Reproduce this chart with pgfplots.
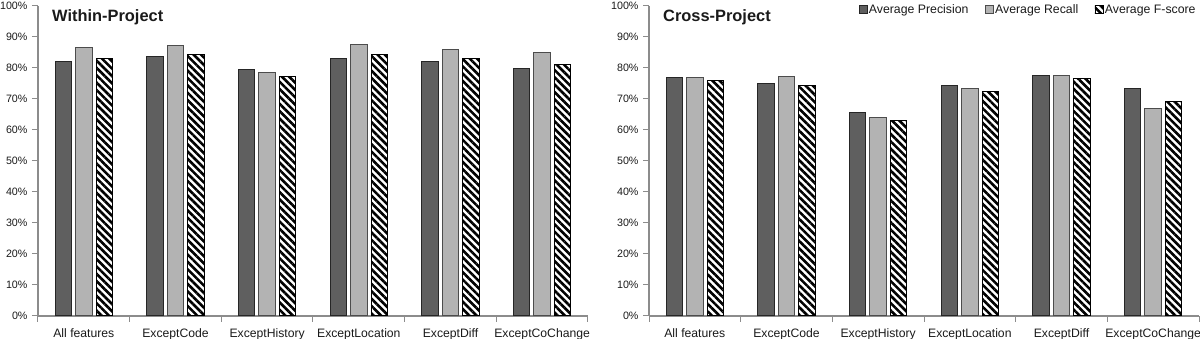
\documentclass[border=0pt]{standalone}
\usepackage{fontspec}
\setmainfont{Liberation Sans}
\usepackage{pgfplots}
\usepackage{pgfplotstable}
\pgfplotsset{compat=1.18}
\usetikzlibrary{patterns.meta}
\definecolor{precc}{HTML}{5F5F5F}
\definecolor{recc}{HTML}{B3B3B3}
\definecolor{axc}{HTML}{8C8C8C}
\definecolor{txt}{HTML}{1A1A1A}

\pgfplotstableread{
x P R F
0 82.0 86.5 83.1
1 83.6 87.1 84.3
2 79.4 78.6 77.1
3 83.1 87.6 84.3
4 82.0 86.1 83.1
5 79.8 85.0 81.0
}\within
\pgfplotstableread{
x P R F
0 76.8 76.8 76.0
1 74.9 77.2 74.2
2 65.5 64.0 63.1
3 74.2 73.3 72.5
4 77.6 77.6 76.5
5 73.3 67.0 69.3
}\cross

\pgfplotsset{
  myaxis/.style={
    scale only axis, width=550pt, height=310pt,
    anchor=south west,
    xmin=-0.5, xmax=5.5, ymin=0, ymax=100,
    axis x line*=bottom, axis y line*=left,
    axis line style={-, draw=axc, line width=1.1pt},
    ybar, bar width=16.5pt,
    xtick={0,...,5},
    xticklabels={All features,ExceptCode,ExceptHistory,ExceptLocation,ExceptDiff,ExceptCoChange},
    major x tick style={draw=none},
    minor xtick={-0.5,0.5,1.5,2.5,3.5,4.5,5.5},
    minor x tick style={draw=axc, line width=1pt},
    minor tick length=6pt,
    ytick={0,10,...,100},
    yticklabels={0\%,10\%,20\%,30\%,40\%,50\%,60\%,70\%,80\%,90\%,100\%},
    ytick style={draw=axc, line width=1pt},
    tick align=outside, major tick length=6pt,
    xticklabel style={font=\fontsize{12.2}{14}\selectfont, text=txt, yshift=-3pt},
    yticklabel style={font=\fontsize{10.7}{12}\selectfont, text=txt, xshift=-1pt},
    legend image code/.code={\draw[#1, line width=0.8pt] (0pt,-4.2pt) rectangle (8.4pt,4.2pt);},
  },
  pstyle/.style={fill=precc, draw=black!85, line width=1pt, bar shift=-20.5pt},
  rstyle/.style={fill=recc, draw=black!70, line width=1pt, bar shift=0pt},
  fstyle/.style={draw=black, line width=1pt, bar shift=20.5pt, fill=white,
     postaction={pattern={Lines[angle=-45,distance=5.2pt,line width=2.6pt]}, pattern color=black}},
}

\begin{document}
\begin{tikzpicture}
\path[use as bounding box] (0,0) rectangle (1200pt,339pt);
\begin{axis}[myaxis, at={(38pt,23pt)}]
\addplot[pstyle] table[x=x,y=P] {\within};
\addplot[rstyle] table[x=x,y=R] {\within};
\addplot[fstyle] table[x=x,y=F] {\within};
\end{axis}
\begin{axis}[myaxis, at={(649pt,23pt)},
  legend columns=3,
  legend style={at={(1,1)}, anchor=north east, xshift=1pt, yshift=5pt, draw=none, fill=none,
    font=\fontsize{12.3}{13}\selectfont, text=txt,
    /tikz/every even column/.append style={column sep=15pt},
    nodes={inner sep=1.2pt}},
  ]
\addplot[pstyle] table[x=x,y=P] {\cross};
\addlegendentry{Average Precision}
\addplot[rstyle] table[x=x,y=R] {\cross};
\addlegendentry{Average Recall}
\addplot[fstyle] table[x=x,y=F] {\cross};
\addlegendentry{Average F-score}
\end{axis}
\node[anchor=west, font=\bfseries\fontsize{16.4}{18}\selectfont, text=txt, inner sep=0pt] at (52pt,321.5pt) {Within-Project};
\node[anchor=west, font=\bfseries\fontsize{16.4}{18}\selectfont, text=txt, inner sep=0pt] at (663pt,321.5pt) {Cross-Project};
\end{tikzpicture}
\end{document}
